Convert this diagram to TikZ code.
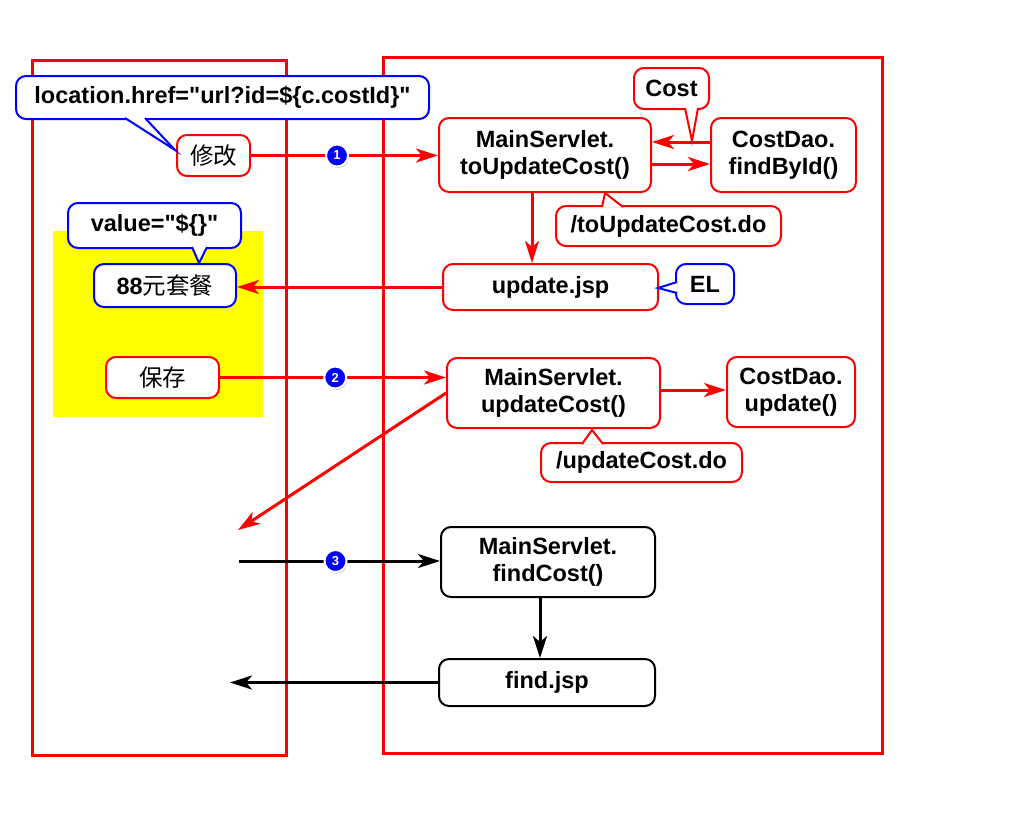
\documentclass[tikz,border=0pt]{standalone}
\usepackage{fontspec}
\setmainfont{Liberation Sans}[Ligatures=TeXOff]
\newfontfamily\cjk{Noto Sans CJK SC}
\usepackage{tikz}
\usetikzlibrary{arrows.meta}
\usetikzlibrary{calc}
\usetikzlibrary{shadows}
\usetikzlibrary{backgrounds}
\definecolor{framered}{RGB}{255,0,0}
\definecolor{calloutblue}{RGB}{0,0,255}
\definecolor{markyellow}{RGB}{255,255,0}
\newcommand{\colorframe}{framered}
\newcommand{\colorcallout}{calloutblue}
\newcommand{\radiusbox}{10pt}
\newcommand{\calloutpointer}[4]{\filldraw[#1, fill=white, line width=2pt] #2 -- #3 -- #4;}
\tikzset{
    common/.style={draw, rectangle, rounded corners=\radiusbox, fill=white, line width=2pt, align=center, inner sep=0pt, font=\fontsize{23.5}{27}\selectfont\bfseries},
    boxsize/.style 2 args={minimum width=#1, minimum height=#2},
    redbox/.style={common, draw=\colorframe},
    bluebox/.style={common, draw=\colorcallout},
    blackbox/.style={common, draw=black},
    frame/.style={draw=\colorframe, line width=3pt},
    flow/.style={line width=3pt, -{Stealth[length=22pt, width=14pt, inset=6pt]}},
    redflow/.style={flow, \colorframe},
    blackflow/.style={flow, black},
    badge/.style={circle, fill=\colorcallout, draw=white, line width=2pt, text=white, minimum size=22pt, inner sep=0pt,
        font=\fontsize{13}{13}\selectfont\bfseries, drop shadow={shadow xshift=1pt, shadow yshift=-1.5pt, opacity=0.45}},
}
\begin{document}
\begin{tikzpicture}[x=1pt, y=-1pt]
    \useasboundingbox (0,0) rectangle (1024,812);

    \node[redbox, boxsize={73pt}{41pt}] (edit) at (213.5,155.5) {\mdseries\cjk 修改};
    \node[bluebox, boxsize={142pt}{43pt}] (price) at (165,285.5) {88{\mdseries\cjk 元套餐}};
    \node[redbox, boxsize={113pt}{41pt}] (save) at (162.5,377.5) {\mdseries\cjk 保存};

    \node[redbox, boxsize={212pt}{74pt}] (to-update) at (545,155) {MainServlet.\\toUpdateCost()};
    \node[redbox, boxsize={145pt}{74pt}] (find-by-id) at (783.5,155) {CostDao.\\findById()};
    \node[redbox, boxsize={215pt}{46pt}] (update-jsp) at (550.5,287) {update.jsp};
    \node[redbox, boxsize={213pt}{70pt}] (update-cost) at (553.5,393) {MainServlet.\\updateCost()};
    \node[redbox, boxsize={128pt}{70pt}] (dao-update) at (791,392) {CostDao.\\update()};
    \node[blackbox, boxsize={214pt}{70pt}] (find-cost) at (548,562) {MainServlet.\\findCost()};
    \node[blackbox, boxsize={216pt}{47pt}] (find-jsp) at (547,682.5) {find.jsp};

    \coordinate (redirect) at (238,530);
    \coordinate (browser-find) at (239,561);
    \coordinate (browser-list) at (230,683);

    \begin{scope}[on background layer]
        \fill[markyellow] (53,231) rectangle (263,417);
        \draw[frame] (32,60) rectangle (286,755);
        \draw[frame] (383,57) rectangle (882,753);

        \draw[redflow] (edit.east) -- (edit.east -| to-update.west) node[badge, pos=0.46] (badge-1) {1};
        \draw[redflow] ([yshift=13pt]find-by-id.west) -- ([yshift=13pt]to-update.east);
        \draw[redflow] ([yshift=-9pt]to-update.east) -- ([yshift=-9pt]find-by-id.west);
        \draw[redflow] ([xshift=-13pt]to-update.south) -- ([xshift=-13pt]to-update.south |- update-jsp.north);
        \draw[redflow] (update-jsp.west) -- (update-jsp.west -| price.east);
        \draw[redflow] (save.east) -- (save.east -| update-cost.west) node[badge, pos=0.51] (badge-2) {2};
        \draw[redflow] ([yshift=3pt]update-cost.east) -- ([yshift=3pt]update-cost.east -| dao-update.west);
        \draw[redflow] (update-cost.west) -- (redirect);
        \draw[blackflow] (browser-find) -- (browser-find -| find-cost.west) node[badge, pos=0.48] (badge-3) {3};
        \draw[blackflow] ([xshift=-8pt]find-cost.south) -- ([xshift=-8pt]find-cost.south |- find-jsp.north);
        \draw[blackflow] (find-jsp.west) -- (find-jsp.west -| browser-list);
    \end{scope}

    \node[bluebox, boxsize={413pt}{43pt}] (location) at (222.5,97.5) {location.href="url?id=\$\{c.costId\}"};
    \calloutpointer{\colorcallout}{(125,118)}{(175,150)}{(145,118)}
    \node[bluebox, boxsize={173pt}{45pt}] (value) at (154.5,225.5) {value="\$\{\}"};
    \calloutpointer{\colorcallout}{(192,247)}{(199,263)}{(207,247)}
    \node[redbox, boxsize={75pt}{41pt}] (cost) at (671.5,88.5) {Cost};
    \calloutpointer{\colorframe}{(685,108)}{(692,141)}{(698,108)}
    \node[redbox, boxsize={225pt}{40pt}] (to-update-do) at (668.5,226) {/toUpdateCost.do};
    \calloutpointer{\colorframe}{(602,207)}{(605,193)}{(623,207)}
    \node[bluebox, boxsize={58pt}{40pt}] (el) at (705,284) {EL};
    \calloutpointer{\colorcallout}{(677,282)}{(658,288)}{(677,293)}
    \node[redbox, boxsize={201pt}{39pt}] (update-do) at (641.5,462.5) {/updateCost.do};
    \calloutpointer{\colorframe}{(582,444)}{(592,430)}{(603,444)}
\end{tikzpicture}
\end{document}
